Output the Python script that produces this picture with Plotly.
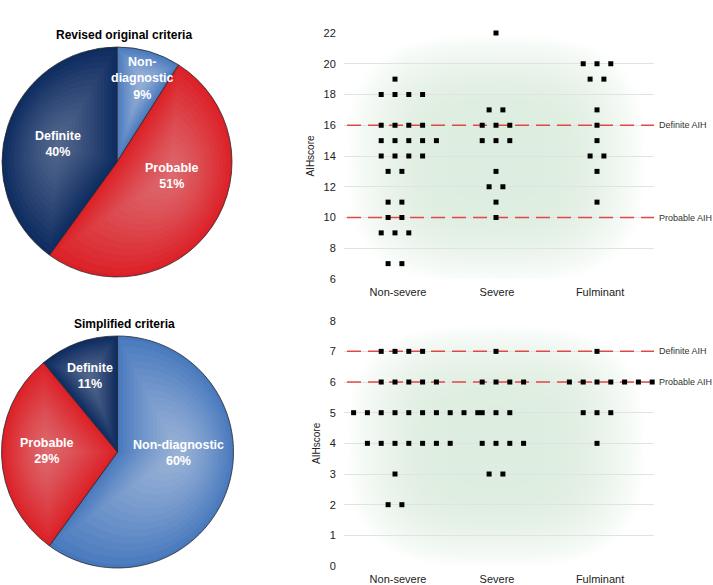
import math
from collections import Counter
import plotly.graph_objects as go

W, H = 713, 585
FONT = "Liberation Sans, Arial, sans-serif"

# ---------------- data ----------------
pie_categories = ["Non-diagnostic", "Probable", "Definite"]
revised_pct = [9, 51, 40]
simplified_pct = [60, 29, 11]
revised_display = ["Non-<br>diagnostic", "Probable", "Definite"]
simplified_display = ["Non-diagnostic", "Probable", "Definite"]

severity_groups = ["Non-severe", "Severe", "Fulminant"]

revised_nonsevere = [19, 18, 18, 18, 18, 16, 16, 16, 16, 15, 15, 15, 15, 15,
                     14, 14, 14, 14, 13, 13, 11, 11, 10, 10, 9, 9, 9, 7, 7]
revised_severe = [22, 17, 17, 16, 16, 16, 15, 15, 15, 13, 12, 12, 11, 10]
revised_fulminant = [20, 20, 20, 19, 19, 17, 16, 15, 14, 14, 13, 11]

simplified_nonsevere = [7, 7, 7, 7, 6, 6, 6, 6, 6, 5, 5, 5, 5, 5, 5, 5, 5, 5, 5,
                        4, 4, 4, 4, 4, 4, 4, 3, 2, 2]
simplified_severe = [7, 6, 6, 6, 6, 5, 5, 5, 4, 4, 4, 4, 3, 3]
simplified_fulminant = [7, 6, 6, 6, 6, 6, 6, 6, 5, 5, 5, 4]

cutoff_labels = ["Definite AIH", "Probable AIH"]
revised_cutoffs = [16, 10]
simplified_cutoffs = [7, 6]

revised_ticks = [6, 8, 10, 12, 14, 16, 18, 20, 22]
simplified_ticks = [0, 1, 2, 3, 4, 5, 6, 7, 8]

# ---------------- layout constants (pixels) ----------------
PLOT_X0, PLOT_X1 = 344, 654
TOP_Y0, TOP_Y1 = 33, 279
BOT_Y0, BOT_Y1 = 320.7, 566
CAT0_PX, CAT_STEP = 395, 101
X_RANGE = [(PLOT_X0 - CAT0_PX) / CAT_STEP, (PLOT_X1 - CAT0_PX) / CAT_STEP]
DOT_DX = 13.8 / CAT_STEP

pie_colors = ["#4677bd", "#dc1e26", "#0c2b60"]
pie_highlight = [0.47, 0.38, 0.30]
GLOW_CENTER = (221, 237, 223)

# pie boxes in pixels: (x0, y0, x1, y1)
TOP_PIE = (2, 47, 232, 277)
BOT_PIE = (1.5, 336, 233.5, 568)
# label placement in polar form: (angle deg clockwise from 12 o'clock, radius fraction)
top_label_pos = [(17, 0.76), (104, 0.49), (287, 0.54)]
bot_label_pos = [(91, 0.53), (271, 0.61), (340, 0.70)]


def fx(p):
    return p / W


def fy(p):
    return 1 - p / H


def dot_positions(scores, gi):
    xs, ys = [], []
    for score, n in Counter(scores).items():
        lo = (n - 1) / 2 if n <= 3 else (n - 1) // 3
        for k in range(n):
            xs.append(gi + (k - lo) * DOT_DX)
            ys.append(score)
    return xs, ys


fig = go.Figure()
shapes = []
annotations = []


def add_pie(values, display, box, label_pos, title):
    x0, y0, x1, y1 = box
    fig.add_trace(go.Pie(
        labels=pie_categories, values=values, sort=False, direction="clockwise",
        rotation=0, textinfo="none", hoverinfo="label+percent",
        marker=dict(colors=pie_colors, line=dict(color="#2b2b2b", width=0.8)),
        domain=dict(x=[fx(x0), fx(x1)], y=[fy(y1), fy(y0)]),
        showlegend=False))
    cx, cy = (x0 + x1) / 2, (y0 + y1) / 2
    r = min(x1 - x0, y1 - y0) / 2
    total = sum(values)
    start = 0.0
    for i, v in enumerate(values):
        a0 = start
        a1 = start + 360.0 * v / total
        start = a1
        ang, rf = label_pos[i]
        px = cx + rf * r * math.sin(math.radians(ang))
        py = cy - rf * r * math.cos(math.radians(ang))
        # path-gradient highlight made of nested scaled wedges
        nseg = max(8, int((a1 - a0) / 3))
        wedge = [(cx, cy)]
        for j in range(nseg + 1):
            t = math.radians(a0 + (a1 - a0) * j / nseg)
            wedge.append((cx + r * math.sin(t), cy - r * math.cos(t)))
        N = 16
        f = pie_highlight[i]
        alpha = 1 - (1 - f) ** (1 / N)
        for k in range(1, N + 1):
            s = 0.97 * (N + 1 - k) / N
            pts = [(px + s * (qx - px), py + s * (qy - py)) for qx, qy in wedge]
            path = "M " + " L ".join(f"{fx(a):.5f},{fy(b):.5f}" for a, b in pts) + " Z"
            shapes.append(dict(type="path", path=path, xref="paper", yref="paper",
                               fillcolor=f"rgba(255,255,255,{alpha:.4f})",
                               line=dict(width=0), layer="above"))
        annotations.append(dict(
            x=fx(px), y=fy(py), xref="paper", yref="paper", showarrow=False,
            xanchor="center", yanchor="middle",
            text=f"<b>{display[i]}<br>{v}%</b>", align="center",
            font=dict(family=FONT, size=12.5, color="white")))
    annotations.append(dict(
        x=fx(cx + 7), y=fy(y0 - 12), xref="paper", yref="paper", showarrow=False,
        xanchor="center", yanchor="middle",
        text=f"<b>{title}</b>", font=dict(family=FONT, size=12, color="black")))


add_pie(revised_pct, revised_display, TOP_PIE, top_label_pos, "Revised original criteria")
add_pie(simplified_pct, simplified_display, BOT_PIE, bot_label_pos, "Simplified criteria")


def glow_path(cx, cy, rx, ry, n=3.0, m=72):
    pts = []
    for j in range(m):
        t = 2 * math.pi * j / m
        c, s = math.cos(t), math.sin(t)
        x = cx + rx * math.copysign(abs(c) ** (2 / n), c)
        y = cy + ry * math.copysign(abs(s) ** (2 / n), s)
        pts.append(f"{x:.4f},{y:.4f}")
    return "M " + " L ".join(pts) + " Z"


def add_scatter(groups_scores, xa, ya, cutoffs, green_cy, green_ry):
    # soft green glow behind the plot: nested opaque bands, outermost first
    N = 26
    for k in range(N):
        s = ((N - k) / N) ** (1 / 3)
        frac = (k + 1) / N
        col = tuple(round(255 + frac * (c - 255)) for c in GLOW_CENTER)
        shapes.append(dict(type="path", xref=xa, yref=ya,
                           path=glow_path(1.0, green_cy, 1.47 * s, green_ry * s),
                           fillcolor=f"rgb{col}",
                           line=dict(width=0), layer="below"))
    # dashed cut-off lines, drawn as traces under the dots
    for c, lab in zip(cutoffs, cutoff_labels):
        fig.add_trace(go.Scatter(
            x=[X_RANGE[0] + 0.03, X_RANGE[1]], y=[c, c], mode="lines",
            xaxis=xa, yaxis=ya, hoverinfo="skip", showlegend=False,
            line=dict(color="rgba(222,45,45,0.85)", width=1.5, dash="14px,7px")))
        annotations.append(dict(x=1, y=c, xref=f"{xa} domain", yref=ya,
                                xanchor="left", yanchor="middle", xshift=3, showarrow=False,
                                text=lab, font=dict(family=FONT, size=9, color="#333")))
    for gi, scores in enumerate(groups_scores):
        xs, ys = dot_positions(scores, gi)
        fig.add_trace(go.Scatter(
            x=xs, y=ys, mode="markers", xaxis=xa, yaxis=ya, cliponaxis=False,
            marker=dict(symbol="square", size=5, color="black"),
            name=severity_groups[gi], showlegend=False))


add_scatter([revised_nonsevere, revised_severe, revised_fulminant], "x", "y",
            revised_cutoffs, 13.8, 8.1)
add_scatter([simplified_nonsevere, simplified_severe, simplified_fulminant], "x2", "y2",
            simplified_cutoffs, 3.9, 3.95)

xaxis_common = dict(
    domain=[fx(PLOT_X0), fx(PLOT_X1)], range=X_RANGE,
    tickvals=[0.03, 1.01, 2.03], ticktext=severity_groups,
    showgrid=False, zeroline=False, showline=False,
    ticks="outside", ticklen=3, tickcolor="rgba(0,0,0,0)",
    tickfont=dict(family=FONT, size=11, color="#222"), automargin=False, fixedrange=True)
yaxis_common = dict(
    showgrid=True, gridcolor="#e2e2e2", gridwidth=1, zeroline=False, showline=False,
    ticks="outside", ticklen=5, tickcolor="rgba(0,0,0,0)",
    tickfont=dict(family=FONT, size=11, color="#222"), automargin=False, fixedrange=True,
    title=dict(text="AIHscore", font=dict(family=FONT, size=10, color="#222"), standoff=7))

fig.update_layout(
    width=W, height=H, margin=dict(l=0, r=0, t=0, b=0),
    paper_bgcolor="white", plot_bgcolor="white",
    font=dict(family=FONT),
    xaxis=dict(anchor="y", **xaxis_common),
    yaxis=dict(anchor="x", domain=[fy(TOP_Y1), fy(TOP_Y0)],
               range=[revised_ticks[0], revised_ticks[-1]], tickvals=revised_ticks,
               **yaxis_common),
    xaxis2=dict(anchor="y2", **xaxis_common),
    yaxis2=dict(anchor="x2", domain=[fy(BOT_Y1), fy(BOT_Y0)],
                range=[simplified_ticks[0], simplified_ticks[-1]], tickvals=simplified_ticks,
                **yaxis_common),
    shapes=shapes, annotations=annotations,
)

fig.write_html("out.html", config={"displayModeBar": False},
               post_script="document.body.style.margin='0px';")
